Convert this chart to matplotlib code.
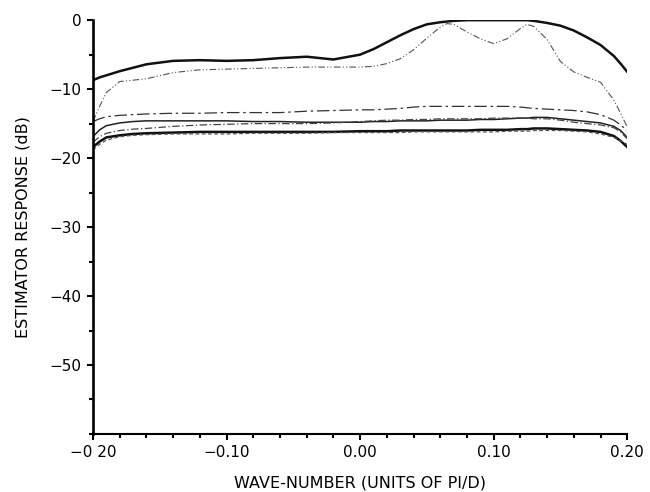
import matplotlib
matplotlib.use("Agg")
import matplotlib.pyplot as plt
from matplotlib.ticker import MultipleLocator, FixedLocator

# wave-number grid (units of pi/D), shared by all curves
wave = [-0.20, -0.195, -0.19, -0.18, -0.17, -0.16, -0.14, -0.12, -0.10, -0.08,
        -0.06, -0.04, -0.02, 0.00, 0.01, 0.02, 0.03, 0.04, 0.05, 0.06,
        0.065, 0.07, 0.08, 0.09, 0.10, 0.11, 0.12, 0.125, 0.13, 0.14,
        0.15, 0.16, 0.17, 0.18, 0.19, 0.195, 0.20]

# estimator response (dB)
resp_1 = [-8.7, -8.3, -8.0, -7.4, -6.9, -6.4, -5.9, -5.8, -5.9, -5.8,
          -5.5, -5.3, -5.7, -5.0, -4.2, -3.2, -2.2, -1.3, -0.6, -0.3,
          -0.2, -0.1, 0.0, 0.0, 0.0, 0.0, 0.0, 0.0, -0.1, -0.4,
          -0.8, -1.5, -2.5, -3.6, -5.2, -6.3, -7.5]
resp_2 = [-14.7, -12.5, -10.5, -8.9, -8.7, -8.5, -7.6, -7.2, -7.1, -7.0,
          -6.9, -6.8, -6.8, -6.8, -6.7, -6.3, -5.6, -4.3, -2.6, -1.0,
          -0.5, -0.6, -1.7, -2.7, -3.4, -2.7, -1.2, -0.6, -0.9, -2.8,
          -6.0, -7.5, -8.3, -9.0, -11.6, -13.5, -15.5]
resp_3 = [-14.7, -14.3, -14.0, -13.8, -13.7, -13.6, -13.5, -13.5, -13.4, -13.4,
          -13.4, -13.2, -13.1, -13.0, -13.0, -12.9, -12.8, -12.6, -12.5, -12.5,
          -12.5, -12.5, -12.5, -12.5, -12.5, -12.5, -12.6, -12.7, -12.8, -12.9,
          -13.0, -13.1, -13.3, -13.7, -14.5, -15.2, -16.0]
resp_4 = [-16.9, -15.9, -15.3, -14.9, -14.7, -14.6, -14.6, -14.6, -14.6, -14.7,
          -14.7, -14.8, -14.8, -14.8, -14.7, -14.7, -14.6, -14.6, -14.6, -14.5,
          -14.5, -14.5, -14.5, -14.4, -14.4, -14.3, -14.2, -14.2, -14.1, -14.1,
          -14.3, -14.5, -14.7, -14.9, -15.4, -16.0, -17.0]
resp_5 = [-17.7, -16.9, -16.4, -16.0, -15.8, -15.7, -15.4, -15.2, -15.1, -15.0,
          -15.0, -15.0, -14.9, -14.7, -14.6, -14.5, -14.5, -14.4, -14.4, -14.3,
          -14.3, -14.3, -14.3, -14.3, -14.2, -14.2, -14.2, -14.2, -14.3, -14.3,
          -14.5, -14.8, -15.0, -15.2, -15.6, -16.2, -17.2]
resp_6 = [-18.4, -17.6, -17.0, -16.7, -16.5, -16.4, -16.3, -16.2, -16.2, -16.2,
          -16.2, -16.2, -16.2, -16.1, -16.1, -16.1, -16.0, -16.0, -16.0, -16.0,
          -16.0, -16.0, -16.0, -15.9, -15.9, -15.9, -15.8, -15.8, -15.7, -15.7,
          -15.8, -15.9, -16.0, -16.2, -16.8, -17.5, -18.4]
resp_7 = [-18.8, -18.0, -17.4, -16.9, -16.7, -16.6, -16.5, -16.5, -16.5, -16.4,
          -16.4, -16.4, -16.3, -16.3, -16.3, -16.3, -16.3, -16.2, -16.2, -16.2,
          -16.2, -16.2, -16.2, -16.2, -16.2, -16.1, -16.1, -16.1, -16.0, -16.0,
          -16.0, -16.1, -16.2, -16.5, -17.0, -17.5, -18.0]

x_ticks = [-0.20, -0.10, 0.00, 0.10, 0.20]
x_labels = ["\u22120 20", "\u22120.10", "0.00", "0.10", "0.20"]
y_ticks = [0, -10, -20, -30, -40, -50]
y_labels = ["0", "\u221210", "\u221220", "\u221230", "\u221240", "\u221250"]

plt.rcParams["font.family"] = ["DejaVu Sans"]

fig = plt.figure(figsize=(6.5, 4.92), dpi=100)
ax = fig.add_axes([0.143, 0.118, 0.822, 0.841])

ax.plot(wave, resp_1, color="#111111", lw=1.8, solid_capstyle="round")
ax.plot(wave, resp_2, color="#555555", lw=0.8, linestyle=(0, (6, 2, 1, 2, 1, 2)))
ax.plot(wave, resp_3, color="#333333", lw=0.9, linestyle=(0, (10, 3, 2, 3)))
ax.plot(wave, resp_4, color="#222222", lw=1.1)
ax.plot(wave, resp_5, color="#444444", lw=0.9, linestyle=(0, (6, 2, 1, 2)))
ax.plot(wave, resp_6, color="#111111", lw=1.8)
ax.plot(wave, resp_7, color="#555555", lw=0.9, linestyle=(0, (3, 2)))

ax.set_xlim(-0.20, 0.20)
ax.set_ylim(-60, 0)

ax.spines["top"].set_visible(False)
ax.spines["right"].set_visible(False)
ax.spines["left"].set_linewidth(1.9)
ax.spines["bottom"].set_linewidth(1.5)

ax.xaxis.set_major_locator(FixedLocator(x_ticks))
ax.set_xticklabels(x_labels)
ax.xaxis.set_minor_locator(MultipleLocator(0.02))
ax.yaxis.set_major_locator(FixedLocator(y_ticks))
ax.set_yticklabels(y_labels)
ax.yaxis.set_minor_locator(MultipleLocator(5))

ax.tick_params(which="major", length=4, width=1.5, labelsize=11, pad=4)
ax.tick_params(which="minor", length=3, width=1.5)

ax.set_xlabel("WAVE-NUMBER (UNITS OF PI/D)", fontsize=11.5, labelpad=11)
ax.set_ylabel("ESTIMATOR RESPONSE (dB)", fontsize=11.5, labelpad=14)

fig.savefig("out.png", dpi=100)
